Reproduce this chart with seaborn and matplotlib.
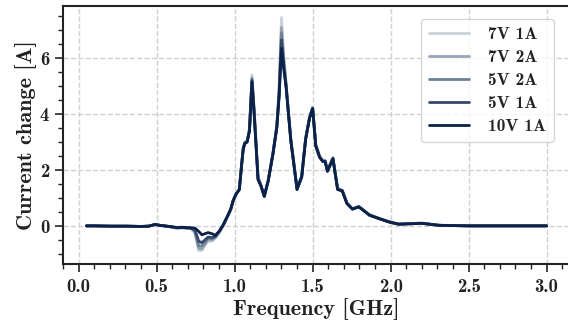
import numpy as np
import pandas as pd
import matplotlib
matplotlib.use("Agg")
import matplotlib.pyplot as plt
import seaborn as sns
from matplotlib.ticker import MultipleLocator

freq = [0.05, 0.10, 0.20, 0.30, 0.40, 0.45, 0.49, 0.52, 0.58, 0.63,
        0.66, 0.69, 0.72, 0.745, 0.77, 0.79, 0.81, 0.83, 0.855, 0.875,
        0.90, 0.925, 0.95, 0.975, 0.99, 1.01, 1.03, 1.045, 1.055, 1.065,
        1.08, 1.095, 1.111, 1.125, 1.15, 1.167, 1.19, 1.215, 1.245, 1.27,
        1.285, 1.30, 1.315, 1.33, 1.36, 1.40, 1.43, 1.455, 1.48, 1.50,
        1.52, 1.545, 1.565, 1.58, 1.595, 1.63, 1.66, 1.69, 1.72, 1.755,
        1.795, 1.81, 1.865, 1.93, 1.99, 2.05, 2.2, 2.31, 2.5, 3.0]

v7_1a = [0.0, 0.0, -0.01, -0.01, -0.02, -0.01, 0.05, 0.02, -0.03, -0.09,
         -0.08, -0.08, -0.1, -0.25, -0.88, -0.88, -0.7, -0.55, -0.55, -0.45,
         -0.25, 0.0, 0.28, 0.58, 0.88, 1.12, 1.3, 2.25, 2.8, 3.0,
         3.05, 3.5, 5.4, 4.2, 1.75, 1.5, 1.1, 1.65, 2.6, 3.6,
         5.0, 7.45, 6.1, 5.1, 3.15, 1.35, 1.8, 3.15, 3.9, 4.25,
         2.95, 2.5, 2.35, 2.35, 2.0, 2.45, 1.35, 1.28, 0.82, 0.62,
         0.7, 0.64, 0.4, 0.27, 0.15, 0.07, 0.1, 0.03, 0.0, 0.0]

v7_2a = [0.0, 0.0, -0.01, -0.01, -0.02, -0.01, 0.05, 0.02, -0.03, -0.08,
         -0.07, -0.08, -0.09, -0.22, -0.82, -0.82, -0.65, -0.5, -0.5, -0.42,
         -0.24, 0.0, 0.28, 0.58, 0.88, 1.13, 1.3, 2.22, 2.78, 2.98,
         3.03, 3.45, 5.3, 4.15, 1.72, 1.48, 1.08, 1.63, 2.58, 3.56,
         4.85, 7.1, 5.95, 5.05, 3.1, 1.33, 1.78, 3.12, 3.88, 4.22,
         2.9, 2.48, 2.33, 2.33, 1.98, 2.43, 1.33, 1.27, 0.81, 0.61,
         0.69, 0.63, 0.39, 0.26, 0.15, 0.07, 0.1, 0.02, 0.0, 0.0]

v5_2a = [0.0, 0.0, -0.01, -0.01, -0.02, -0.01, 0.05, 0.02, -0.02, -0.07,
         -0.06, -0.07, -0.08, -0.18, -0.72, -0.72, -0.58, -0.45, -0.46, -0.4,
         -0.22, 0.01, 0.29, 0.59, 0.89, 1.14, 1.3, 2.2, 2.76, 2.96,
         3.02, 3.42, 5.25, 4.1, 1.7, 1.47, 1.07, 1.62, 2.57, 3.53,
         4.75, 6.9, 5.85, 5.0, 3.08, 1.32, 1.77, 3.11, 3.86, 4.21,
         2.88, 2.47, 2.32, 2.32, 1.97, 2.42, 1.32, 1.26, 0.8, 0.6,
         0.69, 0.63, 0.39, 0.26, 0.14, 0.06, 0.09, 0.02, 0.0, 0.0]

v5_1a = [0.0, 0.0, -0.01, -0.01, -0.02, -0.01, 0.05, 0.02, -0.02, -0.06,
         -0.05, -0.07, -0.08, -0.14, -0.55, -0.6, -0.5, -0.4, -0.42, -0.38,
         -0.21, 0.01, 0.3, 0.6, 0.9, 1.15, 1.3, 2.2, 2.75, 2.95,
         3.0, 3.4, 5.2, 4.05, 1.67, 1.46, 1.06, 1.61, 2.56, 3.51,
         4.68, 6.65, 5.75, 4.98, 3.06, 1.31, 1.76, 3.1, 3.85, 4.2,
         2.86, 2.46, 2.31, 2.31, 1.96, 2.41, 1.31, 1.25, 0.8, 0.6,
         0.68, 0.62, 0.38, 0.25, 0.14, 0.06, 0.09, 0.02, 0.0, 0.0]

v10_1a = [0.0, 0.0, -0.01, -0.01, -0.02, -0.01, 0.05, 0.02, -0.02, -0.06,
          -0.05, -0.06, -0.07, -0.08, -0.2, -0.32, -0.28, -0.24, -0.28, -0.34,
          -0.2, 0.02, 0.3, 0.6, 0.9, 1.15, 1.3, 2.2, 2.75, 2.95,
          3.0, 3.4, 5.15, 4.0, 1.65, 1.45, 1.05, 1.6, 2.55, 3.5,
          4.6, 6.35, 5.6, 4.95, 3.05, 1.3, 1.75, 3.1, 3.85, 4.2,
          2.85, 2.45, 2.3, 2.3, 1.95, 2.4, 1.3, 1.25, 0.8, 0.6,
          0.68, 0.62, 0.38, 0.25, 0.14, 0.06, 0.09, 0.02, 0.0, 0.0]

labels = ["7V 1A", "7V 2A", "5V 2A", "5V 1A", "10V 1A"]
series = [v7_1a, v7_2a, v5_2a, v5_1a, v10_1a]
colors = ["#c9d1db", "#97a3b3", "#6f8096", "#35496a", "#0b2148"]

frames = []
for lab, vals in zip(labels, series):
    frames.append(pd.DataFrame({"freq": freq, "current": vals, "setting": lab}))
df = pd.concat(frames, ignore_index=True)

sns.set_theme(style="ticks")
plt.rcParams["font.family"] = ["cmb10", "DejaVu Serif"]
plt.rcParams["axes.unicode_minus"] = False

fig = plt.figure(figsize=(5.68, 3.23), dpi=100)
ax = fig.add_axes([0.111, 0.183, 0.8926, 0.798])

sns.lineplot(data=df, x="freq", y="current", hue="setting", hue_order=labels,
             palette=colors, linewidth=2.0, ax=ax, legend=True)

ax.set_xlim(-0.1, 3.15)
ax.set_ylim(-1.36, 7.86)
ax.xaxis.set_minor_locator(MultipleLocator(0.1))
ax.yaxis.set_minor_locator(MultipleLocator(0.5))
ax.set_xticks([0.0, 0.5, 1.0, 1.5, 2.0, 2.5, 3.0])
ax.set_xticklabels(["0.0", "0.5", "1.0", "1.5", "2.0", "2.5", "3.0"])
ax.set_yticks([0, 2, 4, 6])
ax.set_yticklabels(["0", "2", "4", "6"])
ax.grid(True, which="major", linestyle="--", color="#d0d0d0", linewidth=1.0)
ax.set_axisbelow(True)
ax.tick_params(which="major", length=6, width=1.2, labelsize=13.5, colors="#222222", pad=4)
ax.tick_params(which="minor", length=3.5, width=1.0, colors="#222222")
for s in ax.spines.values():
    s.set_linewidth(1.5)
    s.set_color("#222222")

ax.set_xlabel("Frequency [GHz]", fontsize=16, color="#222222", labelpad=2)
ax.set_ylabel("Current change [A]", fontsize=16, color="#222222", labelpad=2)

leg = ax.legend(loc="upper right", fontsize=12.5, handlelength=2.3,
                frameon=True, borderpad=0.45, labelspacing=0.46,
                handletextpad=1.1, bbox_to_anchor=(0.985, 0.985))
leg.get_frame().set_edgecolor("#cccccc")
leg.get_frame().set_linewidth(1.0)
for t in leg.get_texts():
    t.set_color("#222222")

fig.savefig("out.png", dpi=100)
